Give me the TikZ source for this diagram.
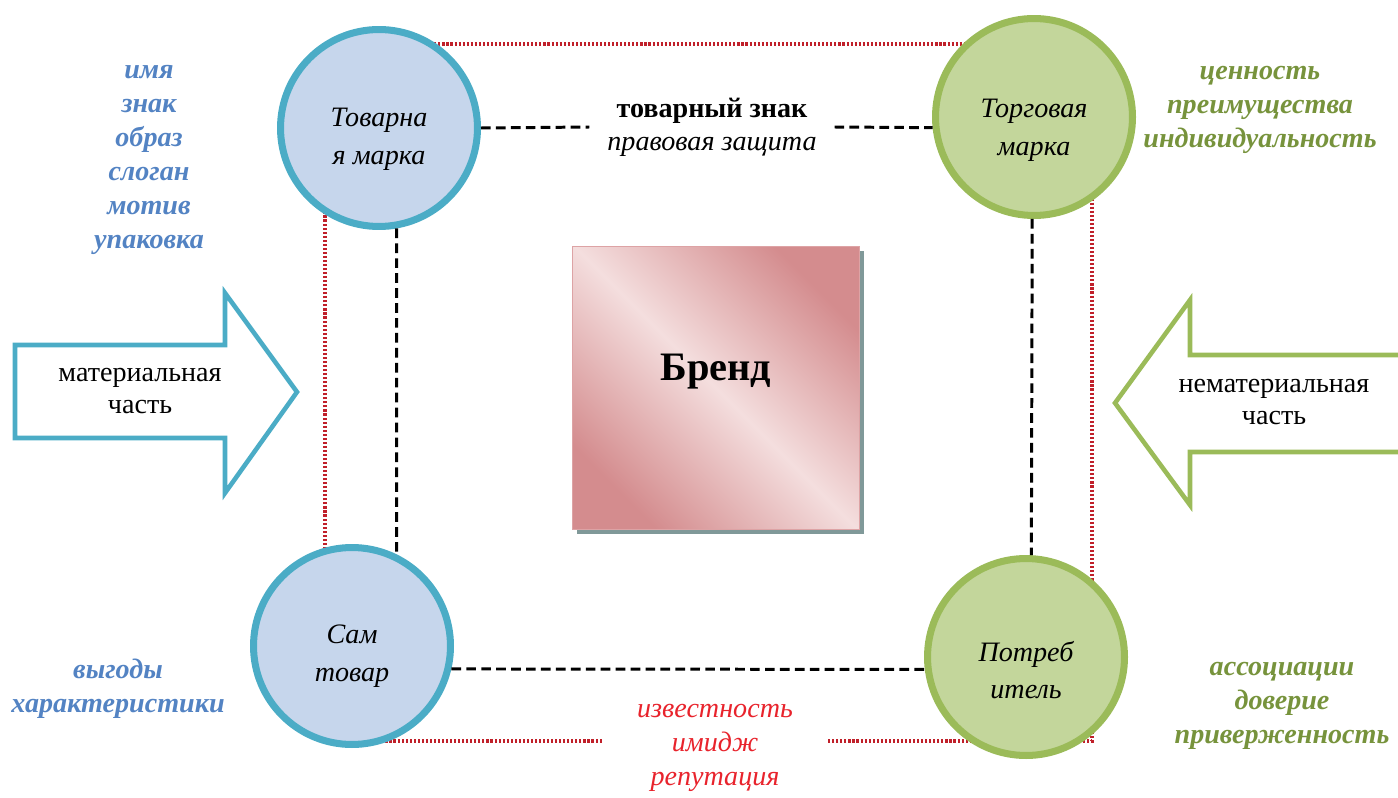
\documentclass[tikz,border=0pt]{standalone}
\usepackage{fontspec}
\setmainfont{Liberation Serif}
\usetikzlibrary{positioning,shadows,backgrounds}

\definecolor{bluerim}{HTML}{4BACC6}
\definecolor{bluefill}{HTML}{C6D6EC}
\definecolor{greenrim}{HTML}{9BBB59}
\definecolor{greenfill}{HTML}{C3D69B}
\definecolor{bluetext}{HTML}{5383C3}
\definecolor{greentext}{HTML}{77933C}
\definecolor{redtext}{HTML}{E8232C}
\definecolor{framered}{HTML}{C0202A}
\definecolor{brandlight}{HTML}{F4DEDE}
\definecolor{branddark}{HTML}{D48C8E}

\begin{document}
\begin{tikzpicture}[x=0.02cm, y=-0.02cm,
  part/.style={circle, minimum size=3.94cm, line width=4pt, inner sep=0pt},
  bluepart/.style={part, draw=bluerim, fill=bluefill},
  greenpart/.style={part, draw=greenrim, fill=greenfill},
  parttext/.style={align=center, font=\fontsize{16}{21.5}\selectfont\itshape},
  listtext/.style={align=center, font=\fontsize{16}{19.3}\selectfont\bfseries\itshape},
  plaintext/.style={align=center, font=\fontsize{16}{18.7}\selectfont},
  link/.style={line width=1.7pt, dash pattern=on 5.5pt off 3pt},
  rim/.style={line width=2pt, framered, dash pattern=on 1.2pt off 1.1pt},
  bigarrow/.style={line width=2.6pt, line join=miter},
]
  \useasboundingbox (0,0) rectangle (1398,797);

  \node[bluepart] (tovm) at (379,128) {};
  \node[parttext] (tovm-t) at ([yshift=-0.22cm]tovm.center) {Товарна\\я марка};
  \node[greenpart] (torm) at (1034,117) {};
  \node[parttext] (torm-t) at ([yshift=-0.26cm]torm.center) {Торговая\\марка};
  \node[bluepart] (samt) at (352,646) {};
  \node[parttext] (samt-t) at ([yshift=-0.2cm]samt.center) {Сам\\товар};
  \node[greenpart] (potr) at (1026,657) {};
  \node[parttext] (potr-t) at ([yshift=-0.26cm]potr.center) {Потреб\\итель};

  \node[draw=branddark!80, minimum width=5.74cm, minimum height=5.66cm,
    top color=branddark, bottom color=branddark, middle color=brandlight, shading angle=-45,
    general shadow={fill=black!60!teal!50, shadow xshift=2.5pt, shadow yshift=-2.5pt}] (brand) at (716,388) {};
  \node[font=\fontsize{23}{28}\selectfont\bfseries] (brand-t) at ([yshift=0.32cm]brand.center) {Бренд};

  \node[plaintext, inner xsep=10pt] (tzn) at (712,127) {\textbf{товарный знак}\\\textit{правовая защита}};
  \node[listtext, text=bluetext] (mat-list) at (149,160) {имя\\знак\\образ\\слоган\\мотив\\упаковка};
  \node[listtext, text=bluetext] (tov-list) at (118,689) {выгоды\\характеристики};
  \node[listtext, text=greentext] (nemat-list) at (1260,110) {ценность\\преимущества\\индивидуальность};
  \node[listtext, text=greentext] (potr-list) at (1282,706) {ассоциации\\доверие\\приверженность};
  \node[align=center, font=\fontsize{16}{19.3}\selectfont\itshape, text=redtext, inner xsep=20pt] (imj) at (715,748) {известность\\имидж\\репутация};

  \draw[bigarrow, bluerim] (15,345) -- (225,345) -- (225,293) -- (297,392) -- (225,493) -- (225,438) -- (15,438) -- cycle;
  \node[plaintext] (mat) at (140,391) {материальная\\часть};
  \draw[bigarrow, greenrim] (1410,355) -- (1190,355) -- (1190,300) -- (1115,403) -- (1190,505) -- (1190,452) -- (1410,452);
  \node[plaintext] (nemat) at (1274,402) {нематериальная\\часть};

  \draw[link] (tovm.east) -- (tzn.west);
  \draw[link] (tzn.east) -- (torm.186);
  \draw[link] (tovm.-80) -- (samt.64);
  \draw[link] (torm.-91) -- (potr.87);
  \draw[link] (samt.-13) -- (potr.187);

  \begin{scope}[on background layer]
    \coordinate (fbl) at (325,741);
    \coordinate (ftl) at (325,44);
    \coordinate (ftr) at (1092,44);
    \coordinate (fbr) at (1092,741);
    \draw[rim] (imj.west |- fbl) -- (fbl) -- (ftl) -- (ftr) -- (fbr) -- (imj.east |- fbr);
  \end{scope}
\end{tikzpicture}
\end{document}
